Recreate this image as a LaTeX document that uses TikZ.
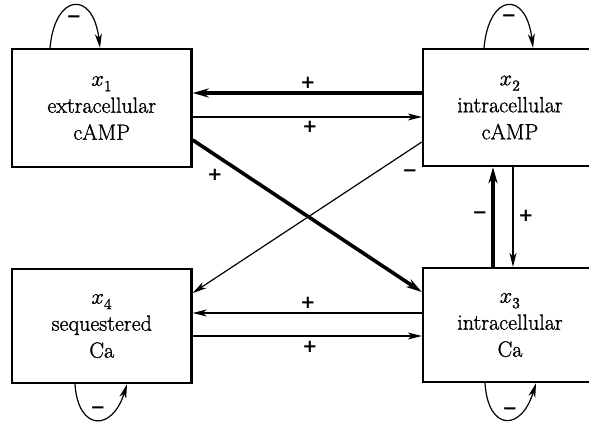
\documentclass[tikz,border=0pt]{standalone}
\usepackage{fontspec}
\usepackage{unicode-math}
\setmainfont{Latin Modern Roman}[FakeBold=1.2]
\setmathfont{Latin Modern Math}[FakeBold=1.2]
\newfontfamily\signfont{DejaVu Sans}
\usetikzlibrary{arrows.meta}
\begin{document}
\begin{tikzpicture}[x=1pt,y=-1pt,
  box/.style={draw, line width=2.4pt, align=center, inner sep=0pt,
    font=\fontsize{22}{27}\selectfont},
  thinarrow/.style={line width=1.2pt, -{Stealth[length=14pt,width=7pt,inset=4pt]}},
  thickarrow/.style={line width=3.6pt, -{Stealth[length=16pt,width=9pt,inset=5pt]}},
  sign/.style={font=\signfont\bfseries\fontsize{18}{18}\selectfont, inner sep=0pt}]
\useasboundingbox (0,0) rectangle (589,422);
\clip (0,0) rectangle (589,422);
% boxes
\node[box, minimum width=179.5pt, minimum height=118pt] (x1) at (101.75,108) {$x_1$\\extracellular\\cAMP};
\node[box, minimum width=174pt, minimum height=117pt] (x2) at (510,107.5) {$x_2$\\intracellular\\cAMP};
\node[box, minimum width=174pt, minimum height=114pt] (x3) at (510,325) {$x_3$\\intracellular\\Ca};
\node[box, minimum width=179.5pt, minimum height=114pt] (x4) at (101.75,326) {$x_4$\\sequestered\\Ca};
% horizontal connectors
\draw[thickarrow] (x2.west |- 0,93) -- (x1.east |- 0,93);
\draw[thinarrow] (x1.east |- 0,117) -- (x2.west |- 0,117);
\draw[thinarrow] (x3.west |- 0,313) -- (x4.east |- 0,313);
\draw[thinarrow] (x4.east |- 0,336) -- (x3.west |- 0,336);
% diagonals
\draw[thickarrow] (x1.east |- 0,140) -- (x3.west |- 0,292);
\draw[thinarrow] (x2.west |- 0,142) -- (x4.east |- 0,293);
% verticals
\draw[thickarrow] (x3.north -| 493,0) -- (x2.south -| 493,0);
\draw[thinarrow] (x2.south -| 513,0) -- (x3.north -| 513,0);
% self loops
\draw[thinarrow] (x1.north -| 50,0) .. controls (55,-7) and (93,-10) .. (x1.north -| 100,0);
\draw[thinarrow] (x2.north -| 484,0) .. controls (489,-7) and (526,-10) .. (x2.north -| 533,0);
\draw[thinarrow] (x4.south -| 75,0) .. controls (78,431) and (112,432) .. (x4.south -| 127,0);
\draw[thinarrow] (x3.south -| 485,0) .. controls (488,431) and (521,432) .. (x3.south -| 536,0);
% signs
\node[sign] (s1) at (308,83) {+};
\node[sign] (s2) at (310,127) {+};
\node[sign] (s3) at (215,175) {+};
\node[sign] (s4) at (410,173) {−};
\node[sign] (s5) at (308,303) {+};
\node[sign] (s6) at (310,347) {+};
\node[sign] (s7) at (480,215) {−};
\node[sign] (s8) at (526,216) {+};
\node[sign] (s9) at (74,19) {−};
\node[sign] (s10) at (509,18) {−};
\node[sign] (s11) at (98,410) {−};
\node[sign] (s12) at (510,411) {−};
\end{tikzpicture}
\end{document}
